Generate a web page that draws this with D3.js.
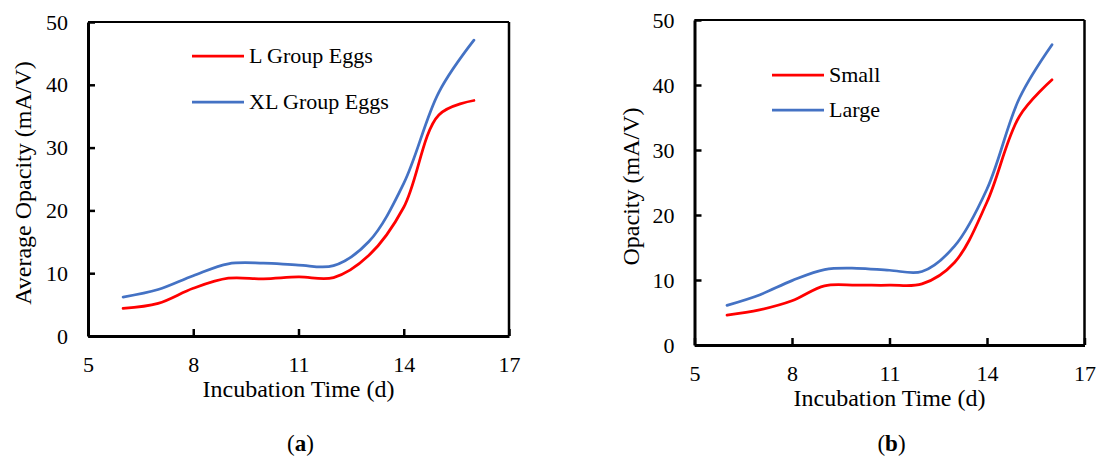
<!DOCTYPE html>
<html>
<head>
<meta charset="utf-8">
<script src="https://cdn.jsdelivr.net/npm/d3@7"></script>
<style>
  html, body { margin: 0; padding: 0; background: #fff; }
  svg text { font-family: "Liberation Serif", "DejaVu Serif", "Times New Roman", Times, serif; }
</style>
</head>
<body>
<svg id="chart" width="1099" height="461"></svg>
<script>
// Incubation days shared by both panels
const days = [6, 7, 8, 9, 10, 11, 12, 13, 14, 15, 16];

// Panel (a): average opacity per egg group
const lGroupEggs  = [4.4, 5.2, 7.6, 9.2, 9.1, 9.4, 9.3, 12.8, 20.5, 35.2, 37.5];
const xlGroupEggs = [6.2, 7.4, 9.6, 11.5, 11.6, 11.3, 11.2, 15.0, 24.3, 38.8, 47.1];

// Panel (b): opacity for small and large eggs
const smallEggs = [4.6, 5.4, 6.8, 9.1, 9.2, 9.2, 9.4, 12.7, 22.0, 35.2, 40.8];
const largeEggs = [6.1, 7.7, 9.9, 11.6, 11.8, 11.5, 11.3, 15.2, 24.0, 38.0, 46.2];

const xTicks = [5, 8, 11, 14, 17];
const yTicks = [0, 10, 20, 30, 40, 50];
const xTitle = "Incubation Time (d)";

const RED = "#ff0000";
const BLUE = "#4472c4";
const FONT = '"Liberation Serif", "DejaVu Serif", "Times New Roman", Times, serif';

const panels = [
  {
    left: 88, right: 509, top: 22, bottom: 336,
    yTitle: "Average Opacity (mA/V)", yTitleX: 31,
    caption: "a",
    legendX: 192, legendY: [56, 102],
    series: [
      { name: "L Group Eggs", values: lGroupEggs, color: RED },
      { name: "XL Group Eggs", values: xlGroupEggs, color: BLUE }
    ]
  },
  {
    left: 694.5, right: 1084.5, top: 20, bottom: 345,
    yTitle: "Opacity (mA/V)", yTitleX: 639,
    caption: "b",
    legendX: 772, legendY: [75, 110],
    series: [
      { name: "Small", values: smallEggs, color: RED },
      { name: "Large", values: largeEggs, color: BLUE }
    ]
  }
];

const svg = d3.select("#chart");

panels.forEach(p => {
  const x = d3.scaleLinear().domain([5, 17]).range([p.left, p.right]);
  const y = d3.scaleLinear().domain([0, 50]).range([p.bottom, p.top]);
  const g = svg.append("g");

  // frame: thin top/right, heavier axes on left/bottom
  g.append("line").attr("x1", p.left).attr("x2", p.right).attr("y1", p.top).attr("y2", p.top)
    .attr("stroke", "#000").attr("stroke-width", 2);
  g.append("line").attr("x1", p.right).attr("x2", p.right).attr("y1", p.top).attr("y2", p.bottom)
    .attr("stroke", "#000").attr("stroke-width", 2.5);

  const yAxis = d3.axisLeft(y).tickValues(yTicks).tickSize(-7).tickPadding(20).tickSizeOuter(0);
  const xAxis = d3.axisBottom(x).tickValues(xTicks).tickSize(-7).tickPadding(20).tickSizeOuter(0);

  const ga = g.append("g").attr("transform", `translate(${p.left},0)`).call(yAxis);
  const gb = g.append("g").attr("transform", `translate(0,${p.bottom})`).call(xAxis);

  [ga, gb].forEach(a => {
    a.attr("font-family", FONT).attr("font-size", 22);
    a.select(".domain").attr("stroke", "#000").attr("stroke-width", 3);
    a.selectAll(".tick line").attr("stroke", "#000").attr("stroke-width", 2.5);
    a.selectAll(".tick text").attr("fill", "#000");
  });
  gb.selectAll(".tick text").attr("dy", "0.71em");

  // series lines
  const line = d3.line()
    .x((d, i) => x(days[i]))
    .y(d => y(d))
    .curve(d3.curveCatmullRom.alpha(0.5));

  p.series.forEach(s => {
    g.append("path")
      .datum(s.values)
      .attr("fill", "none")
      .attr("stroke", s.color)
      .attr("stroke-width", 2.75)
      .attr("stroke-linecap", "round")
      .attr("d", line);
  });

  // legend
  p.series.forEach((s, i) => {
    const ly = p.legendY[i];
    g.append("line")
      .attr("x1", p.legendX).attr("x2", p.legendX + 52)
      .attr("y1", ly).attr("y2", ly)
      .attr("stroke", s.color).attr("stroke-width", 2.75);
    g.append("text")
      .attr("x", p.legendX + 57).attr("y", ly)
      .attr("dy", "0.33em")
      .attr("font-family", FONT)
      .attr("font-size", 22)
      .attr("fill", "#000")
      .text(s.name);
  });

  // axis titles
  g.append("text")
    .attr("x", (p.left + p.right) / 2)
    .attr("y", p.bottom + 61)
    .attr("text-anchor", "middle")
    .attr("font-family", FONT)
    .attr("font-size", 24)
    .text(xTitle);

  g.append("text")
    .attr("transform", `translate(${p.yTitleX},${(p.top + p.bottom) / 2 + 4}) rotate(-90)`)
    .attr("text-anchor", "middle")
    .attr("font-family", FONT)
    .attr("font-size", 24)
    .text(p.yTitle);

  // panel caption
  const cap = g.append("text")
    .attr("x", (p.left + p.right) / 2 + 2)
    .attr("y", 451)
    .attr("text-anchor", "middle")
    .attr("font-family", FONT)
    .attr("font-size", 23);
  cap.append("tspan").text("(");
  cap.append("tspan").attr("font-weight", "bold").text(p.caption);
  cap.append("tspan").text(")");
});
</script>
</body>
</html>
